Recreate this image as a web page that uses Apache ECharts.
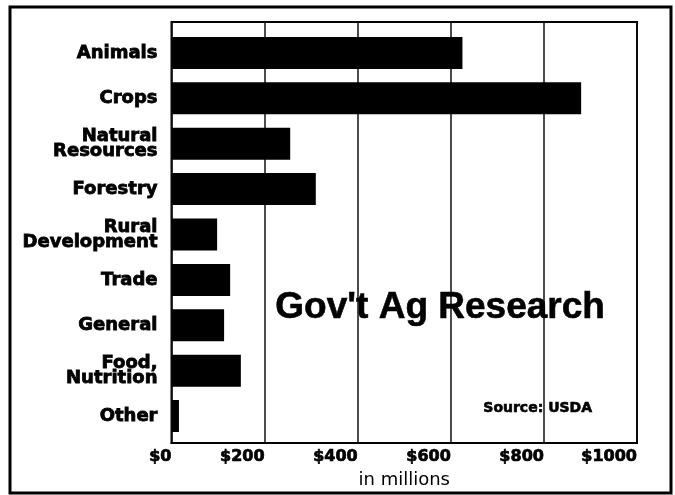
<!DOCTYPE html>
<html>
<head>
<meta charset="utf-8">
<script src="https://cdn.jsdelivr.net/npm/echarts@6/dist/echarts.min.js"></script>
<style>
html,body{margin:0;padding:0;background:#fff;}
#chart{width:675px;height:495px;}
</style>
</head>
<body>
<div id="chart"></div>
<script>
const categories = ['Animals','Crops','Natural\nResources','Forestry','Rural\nDevelopment','Trade','General','Food,\nNutrition','Other'];
const values = [625, 880, 255, 310, 98, 126, 113, 149, 16];
const tickValues = [0, 200, 400, 600, 800, 1000];
const title = "Gov't Ag Research";
const source = 'Source: USDA';
const axisName = 'in millions';

const chart = echarts.init(document.getElementById('chart'), null, {renderer:'canvas'});
const heavy = 'DejaVu Sans';
const option = {
  backgroundColor:'#fff',
  animation:false,
  grid:[
    {left:171.5, right:38, top:22, bottom:52, show:true, borderColor:'#000', borderWidth:2, backgroundColor:'transparent'},
    {left:171.5, right:38, top:30.3, bottom:56.3}
  ],
  xAxis:[
    {gridIndex:0, type:'value', min:0, max:1000, interval:200,
     axisLine:{show:true, lineStyle:{color:'#000', width:2}},
     axisTick:{show:false},
     splitLine:{show:true, lineStyle:{color:'#111', width:1.5}},
     axisLabel:{color:'#000', fontFamily:heavy, fontWeight:'bold', fontSize:16, margin:6, align:'right',
       textBorderColor:'#000', textBorderWidth:0.7,
       formatter:v=> tickValues.includes(v) ? '$'+v : ''},
     name:axisName, nameLocation:'middle', nameGap:28,
     nameTextStyle:{color:'#000', fontFamily:'DejaVu Sans', fontSize:18}
    },
    {gridIndex:1, type:'value', min:0, max:1000, show:false}
  ],
  yAxis:[
    {gridIndex:0, type:'value', show:false},
    {gridIndex:1, type:'category', data:categories, inverse:true,
     axisLine:{show:false}, axisTick:{show:false},
     axisLabel:{color:'#000', fontFamily:heavy, fontWeight:'bold', fontSize:18, lineHeight:15, margin:14,
       textBorderColor:'#000', textBorderWidth:0.8}
    }
  ],
  series:[{
    type:'bar', xAxisIndex:1, yAxisIndex:1, data:values, barWidth:32,
    itemStyle:{color:'#000'}
  }],
  graphic:[
    {type:'rect', shape:{x:10, y:7, width:661, height:486}, style:{fill:'none', stroke:'#000', lineWidth:3}, z:100},
    {type:'text', left:275, top:289, style:{text:title, font:'bold 37px "Liberation Sans"', fill:'#000', stroke:'#000', lineWidth:0.6}, z:100},
    {type:'text', left:483, top:401, style:{text:source, font:'bold 14px "DejaVu Sans"', fill:'#000', stroke:'#000', lineWidth:0.6}, z:100}
  ]
};
chart.setOption(option);
</script>
</body>
</html>
